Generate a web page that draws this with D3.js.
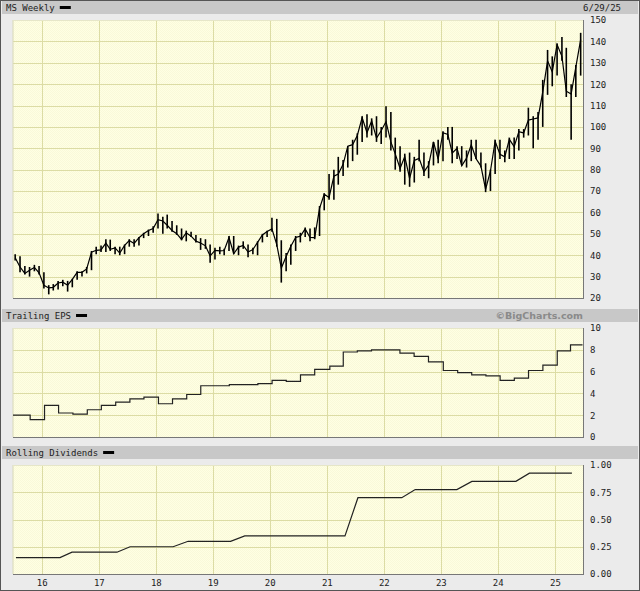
<!DOCTYPE html>
<html><head><meta charset="utf-8">
<script src="https://cdn.jsdelivr.net/npm/d3@7"></script>
<style>body{margin:0;background:#fff}svg{display:block}</style>
</head><body><div id="chart"></div>
<script>
// ---------- DATA ----------
const yearLabels = ["16","17","18","19","20","21","22","23","24","25"];
const priceTicks = [20,30,40,50,60,70,80,90,100,110,120,130,140,150];
const epsTicks = [0,2,4,6,8,10];
const divTicks = ["0.00","0.25","0.50","0.75","1.00"];
const priceStart = "2015-07"; // monthly from Jul 2015 to Jun 2025
const priceHigh = [40.5,39.5,35,34.5,35.5,35, 32,26,26.5,28,28.5,28,29,32.5,32.5,34.5,42,44,
  44.5,47.5,47.3,44,44,45,47.5,47.5,48.5,50.5,52,53.5,
  59.5,58,59,56,54,52.5,51.5,51,49.5,48,47.5,45,
  43.5,44,43,49,49,44.5,46.5,45,43.5,46.5,50,51.5,
  57.5,57,47,41,45,49,50.5,53,52.5,53,63,69,
  78,80,86,84.5,91,94,97,105,105.9,104,105,100,
  109.7,107,95,91,87.5,88,86,94,88,84,93,94,
  98,100,100,91,91,89,94,94,88,83,80,94,
  94,89,95,95,99,99,109,105,107,122,136,133,
  139,142,137,120,129,144];
const priceLow = [37.5,32,31,30,32.5,31, 24.5,21.7,23.5,24,25.5,23,25,28.5,30,31.5,33,40.5,
  41.5,41.5,42,40.5,40,40.5,44,44,44.5,48,49,50.5,
  52.5,50,52.5,51,49.5,47,46.5,48.5,46,42.5,43,36.5,
  38,40.5,40,42,40.5,40,43,39,40.5,40,46,48.5,
  51,44,27.2,32.5,35.5,42,46,48.5,46.5,47.5,49,61,
  66,66,73,77,81,84,87,93,95,96,93,92,
  95,89,80,79,73,72,74,84,77,76,82,83,
  84,94,83,85,82,81,84,85,81,69.5,70,78,
  85,83.5,85,85,89,95,96,90,94,100,115,119,
  124,131,114,94,114,124];
const priceClose = [38.8,34.5,31.5,33,34.3,31.8, 25.9,24.7,25,27,27.4,26,28.7,32,32,33.6,41.4,42.3,
  42.5,45.7,42.8,43.4,41,44.6,46.9,45.5,48.2,50,51.6,52.5,
  56.6,56,54,51.6,50.1,47.4,50.5,48.9,46.6,45.7,44.4,39.7,
  42.3,42,42.2,48.3,40.7,43.8,44.6,41.5,42.7,46,49.5,51.1,
  52.3,45,34,39.4,44.2,48.3,48.9,52.3,48.3,48.2,61.9,68.5,
  67,77,78,82.5,91,91.7,96,104.4,97.3,102.8,94.8,98.2,
  102.5,93,87.4,80.6,86.1,76,84.3,85.3,79,82.2,93,85,
  97.3,96.5,87.8,90,81.8,85.4,91.6,85.1,81.7,70.8,79.4,93.3,
  87.2,86,94.2,90.8,97.8,97.2,103.2,103.7,104.2,116.3,130.9,125.7,
  138.5,133,116.7,115.4,128,140.8];
const epsDates = ["2015-07-01","2015-10-19","2016-01-19","2016-04-18","2016-07-19","2016-10-19",
  "2017-01-17","2017-04-19","2017-07-19","2017-10-17","2018-01-18","2018-04-18","2018-07-18",
  "2018-10-16","2019-01-17","2019-04-17","2019-07-18","2019-10-17","2020-01-16","2020-04-16",
  "2020-07-16","2020-10-15","2021-01-20","2021-04-16","2021-07-15","2021-10-14","2022-01-19",
  "2022-04-14","2022-07-14","2022-10-14","2023-01-17","2023-04-19","2023-07-18","2023-10-17",
  "2024-01-16","2024-04-16","2024-07-16","2024-10-16","2025-01-16","2025-04-11","2025-06-27"];
const epsValues = [2.0,1.6,2.9,2.2,2.1,2.5,2.9,3.2,3.5,3.65,3.05,3.5,3.9,4.7,4.7,4.8,4.8,4.9,5.2,5.1,
  5.7,6.2,6.5,7.8,7.9,8.0,8.0,7.7,7.4,6.9,6.1,5.9,5.7,5.6,5.2,5.4,6.1,6.6,7.9,8.45,8.45];
const divDates = ["2015-07-20","2016-04-27","2016-07-13","2017-04-27","2017-07-20","2018-04-22",
  "2018-07-27","2019-04-25","2019-07-25","2021-04-27","2021-07-19","2022-04-26","2022-07-21",
  "2023-04-14","2023-07-19","2024-04-26","2024-07-22","2025-04-20"];
const divValues = [0.15,0.15,0.20,0.20,0.25,0.25,0.30,0.30,0.35,0.35,0.70,0.70,0.775,0.775,0.85,0.85,0.925,0.925];

// ---------- LAYOUT ----------
const W = 640, H = 591;
const L = 13, R = 583;
const mono = "'DejaVu Sans Mono', monospace";
const svg = d3.select("#chart").append("svg").attr("width", W).attr("height", H);
const defs = svg.append("defs");
const pat = defs.append("pattern").attr("id","dither").attr("width",2).attr("height",2)
  .attr("patternUnits","userSpaceOnUse");
pat.append("rect").attr("width",2).attr("height",2).attr("fill","#ffffe3");
pat.append("rect").attr("width",1).attr("height",1).attr("fill","#f9f9d9");
pat.append("rect").attr("x",1).attr("y",1).attr("width",1).attr("height",1).attr("fill","#f9f9d9");

svg.append("rect").attr("x",0.5).attr("y",0.5).attr("width",W-1).attr("height",H-1)
  .attr("fill","#ebebeb").attr("stroke","#555");

const parse = d3.timeParse("%Y-%m-%d");
const x = d3.scaleTime().domain([new Date(2015,6,1), new Date(2025,5,30)]).range([L, R]);
const yearDates = yearLabels.map(s => new Date(2000 + +s, 0, 1));

function header(y, label, rightText, rightStyle) {
  svg.append("rect").attr("x",2).attr("y",y).attr("width",W-4).attr("height",13).attr("fill","#c8c8c8");
  const t = svg.append("text").attr("x",6).attr("y",y+10).attr("font-family",mono)
    .attr("font-size",9).attr("fill","#222").text(label);
  const w = t.node().getComputedTextLength();
  svg.append("rect").attr("x",6+w+5).attr("y",y+5).attr("width",11).attr("height",3).attr("fill","#000");
  if (rightText) {
    const rt = svg.append("text").attr("text-anchor","end").attr("y",y+10).text(rightText);
    if (rightStyle === "bc") rt.attr("x",R).attr("font-family","'DejaVu Sans', sans-serif")
      .attr("font-weight","bold").attr("font-size",9.5).attr("fill","#8a8a8a");
    else rt.attr("x",621).attr("font-family",mono).attr("font-size",9).attr("fill","#222");
  }
}

function panel(top, bottom, y, ticks, tickFmt) {
  const g = svg.append("g");
  g.append("rect").attr("x",L).attr("y",top).attr("width",R-L).attr("height",bottom-top)
    .attr("fill","url(#dither)");
  g.selectAll("line.h").data(ticks).join("line")
    .attr("x1",L).attr("x2",R).attr("y1",d=>Math.round(y(+d))+0.5).attr("y2",d=>Math.round(y(+d))+0.5)
    .attr("stroke","#dcdca4").attr("stroke-width",1);
  g.selectAll("line.v").data(yearDates).join("line")
    .attr("x1",d=>Math.round(x(d))+0.5).attr("x2",d=>Math.round(x(d))+0.5)
    .attr("y1",top).attr("y2",bottom).attr("stroke","#dcdca4").attr("stroke-width",1);
  // border
  g.append("line").attr("x1",L).attr("x2",L).attr("y1",top).attr("y2",bottom).attr("stroke","#d8d8b8");
  g.append("line").attr("x1",L).attr("x2",R).attr("y1",top+0.5).attr("y2",top+0.5).attr("stroke","#e6e6c8");
  g.append("line").attr("x1",R+0.5).attr("x2",R+0.5).attr("y1",top).attr("y2",bottom+1).attr("stroke","#777");
  g.append("line").attr("x1",L).attr("x2",R+1).attr("y1",bottom+0.5).attr("y2",bottom+0.5).attr("stroke","#777");
  const axis = d3.axisRight(y).tickValues(ticks.map(Number)).tickSize(0).tickPadding(7)
    .tickFormat(tickFmt);
  const ag = svg.append("g").attr("transform",`translate(${R},0)`).call(axis);
  ag.select(".domain").remove();
  ag.selectAll("text").attr("font-family",mono).attr("font-size",9).attr("fill","#222");
  return g;
}

// ---------- PRICE PANEL ----------
header(1, "MS Weekly", "6/29/25", "date");
const yP = d3.scaleLinear().domain([20,150]).range([298,20]);
const gP = panel(20, 298, yP, priceTicks, d => d);
const monthDate = i => new Date(2015, 6 + i, 15);
gP.append("g").selectAll("line").data(priceHigh).join("line")
  .attr("x1",(d,i)=>x(monthDate(i))).attr("x2",(d,i)=>x(monthDate(i)))
  .attr("y1",d=>yP(d)).attr("y2",(d,i)=>yP(priceLow[i]))
  .attr("stroke","#000").attr("stroke-width",1.6);
gP.append("path").datum(priceClose)
  .attr("d", d3.line().x((d,i)=>x(monthDate(i))).y(d=>yP(d)))
  .attr("fill","none").attr("stroke","#000").attr("stroke-width",1.2);

// ---------- EPS PANEL ----------
header(309, "Trailing EPS", "\u00A9BigCharts.com", "bc");
const yE = d3.scaleLinear().domain([0,10]).range([437,328]);
const gE = panel(328, 437, yE, epsTicks, d => d);
gE.append("path").datum(epsDates.map((d,i)=>[parse(d), epsValues[i]]))
  .attr("d", d3.line().x(d=>x(d[0])).y(d=>yE(d[1])).curve(d3.curveStepAfter))
  .attr("fill","none").attr("stroke","#222").attr("stroke-width",1.2);

// ---------- DIVIDENDS PANEL ----------
header(446, "Rolling Dividends", null);
const yD = d3.scaleLinear().domain([0,1]).range([574,465]);
const gD = panel(465, 574, yD, divTicks, d => d3.format(".2f")(d));
gD.append("path").datum(divDates.map((d,i)=>[parse(d), divValues[i]]))
  .attr("d", d3.line().x(d=>x(d[0])).y(d=>yD(d[1])))
  .attr("fill","none").attr("stroke","#222").attr("stroke-width",1.2);

// x axis labels
const xa = d3.axisBottom(x).tickValues(yearDates).tickSize(0).tickPadding(5)
  .tickFormat((d,i)=>yearLabels[i]);
const xg = svg.append("g").attr("transform","translate(0,575)").call(xa);
xg.select(".domain").remove();
xg.selectAll("text").attr("font-family",mono).attr("font-size",9).attr("fill","#222");
</script></body></html>
